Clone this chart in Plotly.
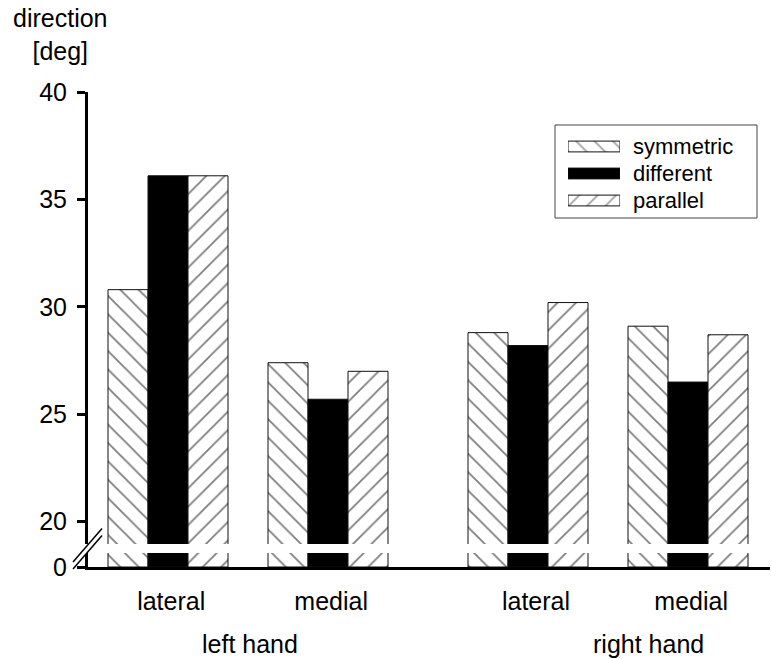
import plotly.graph_objects as go

# ---- data -------------------------------------------------------------
conditions = ["lateral", "medial", "lateral", "medial"]
hands = ["left hand", "right hand"]
series_names = ["symmetric", "different", "parallel"]

symmetric = [30.8, 27.4, 28.8, 29.1]
different = [36.1, 25.7, 28.2, 26.5]
parallel = [36.1, 27.0, 30.2, 28.7]

y_ticks_upper = [20, 25, 30, 35, 40]
y_ticks_lower = [0]

# ---- geometry helpers --------------------------------------------------
W, H = 772, 659
ML, MR, MT, MB = 88, 2, 92, 92
PW, PH = W - ML - MR, H - MT - MB


def fx(px):
    return (px - ML) / PW


def fy(py):
    return (H - MB - py) / PH


group_pos = [0.5, 1.5, 2.75, 3.75]
label_pos = [0.52, 1.52, 2.80, 3.77]
hand_pos = [1.01, 3.5]
bar_w = 0.25
x_range = [0, PW / 160]

series_vals = [symmetric, different, parallel]
HATCH = dict(fgcolor="#000", bgcolor="white", size=13, solidity=0.14)
styles = [
    dict(color="white", pattern=dict(shape="\\", **HATCH)),
    dict(color="black", pattern=dict(shape="")),
    dict(color="white", pattern=dict(shape="/", **HATCH)),
]

fig = go.Figure()

# bars appear in both halves of the broken axis
for axes in (("x", "y"), ("x2", "y2")):
    for i, (name, vals, st) in enumerate(zip(series_names, series_vals, styles)):
        fig.add_trace(go.Bar(
            x=group_pos, y=vals, base=0,
            width=bar_w, offset=-1.5 * bar_w + i * bar_w,
            marker=dict(color=st["color"], pattern=st["pattern"],
                        line=dict(color="#111", width=1)),
            name=name, showlegend=False,
            xaxis=axes[0], yaxis=axes[1], hoverinfo="skip",
        ))

# key swatches drawn as a small horizontal bar chart
fig.add_trace(go.Bar(
    y=[0, 1, 2], x=[1, 1, 1], orientation="h", width=0.4,
    marker=dict(
        color=["white", "black", "white"],
        pattern=dict(shape=["\\", "", "/"], **HATCH),
        line=dict(color="#111", width=1),
    ),
    xaxis="x3", yaxis="y3", showlegend=False, hoverinfo="skip",
))

font = dict(family="Liberation Sans, Arial, sans-serif", size=25, color="black")

upper_bottom_px = 544
px_per_unit = (521.7 - 92) / 20
upper_lo = 40 - (upper_bottom_px - 92) / px_per_unit
lower_hi = (567 - 553) / px_per_unit

yaxis_common = dict(showline=True, linewidth=3, linecolor="black",
                    ticks="outside", ticklen=8, tickwidth=3, tickcolor="black",
                    ticklabelstandoff=5, showgrid=False, zeroline=False, tickfont=font)

fig.update_layout(
    width=W, height=H,
    margin=dict(l=ML, r=MR, t=MT, b=MB),
    paper_bgcolor="white", plot_bgcolor="white",
    font=font, barmode="overlay", showlegend=False,
    xaxis=dict(domain=[0, 1], range=x_range, anchor="y",
               showline=True, linewidth=3, linecolor="black",
               tickvals=label_pos, ticktext=conditions, ticks="",
               ticklabelstandoff=10, showgrid=False, zeroline=False,
               tickfont=font),
    yaxis=dict(domain=[0, fy(553)], range=[0, lower_hi], anchor="x",
               tickvals=y_ticks_lower, **yaxis_common),
    xaxis2=dict(domain=[0, 1], range=x_range, anchor="y2", matches="x",
                visible=False),
    yaxis2=dict(domain=[fy(upper_bottom_px), 1], range=[upper_lo, 40], anchor="x2",
                tickvals=y_ticks_upper, **yaxis_common),
    xaxis3=dict(domain=[fx(568), fx(620)], range=[0, 1], anchor="y3", visible=False),
    yaxis3=dict(domain=[fy(214), fy(133)], range=[2.5, -0.5], anchor="x3", visible=False),
)

# key frame
fig.add_shape(type="rect", xref="paper", yref="paper",
              x0=fx(555), x1=fx(757), y0=fy(218), y1=fy(125),
              line=dict(color="#444", width=1), fillcolor="rgba(0,0,0,0)", layer="below")

for i, name in enumerate(series_names):
    fig.add_annotation(x=1, y=i, xref="x3", yref="y3", text=name, showarrow=False,
                       xanchor="left", yanchor="middle", xshift=11,
                       font=dict(family=font["family"], size=22, color="black"))

# axis break marks
fig.add_shape(type="path", xref="paper", yref="paper",
              path=(f"M{fx(75)},{fy(560)} L{fx(100)},{fy(531)} "
                    f"L{fx(100)},{fy(538)} L{fx(75)},{fy(567)} Z"),
              line=dict(width=0), fillcolor="white")
for dy in (0, 7):
    fig.add_shape(type="line", xref="paper", yref="paper",
                  x0=fx(73), y0=fy(562 + dy), x1=fx(102), y1=fy(528.5 + dy),
                  line=dict(color="black", width=1.5))

# hand labels
for hand, pos in zip(hands, hand_pos):
    fig.add_annotation(x=pos, y=fy(644), xref="x", yref="paper", text=hand,
                       showarrow=False, xanchor="center", yanchor="middle", font=font)

# axis title
fig.add_annotation(x=fx(60), y=fy(2), xref="paper", yref="paper",
                   text="direction<br>[deg]", showarrow=False,
                   xanchor="center", yanchor="top", font=font)

fig.write_html("out.html")
